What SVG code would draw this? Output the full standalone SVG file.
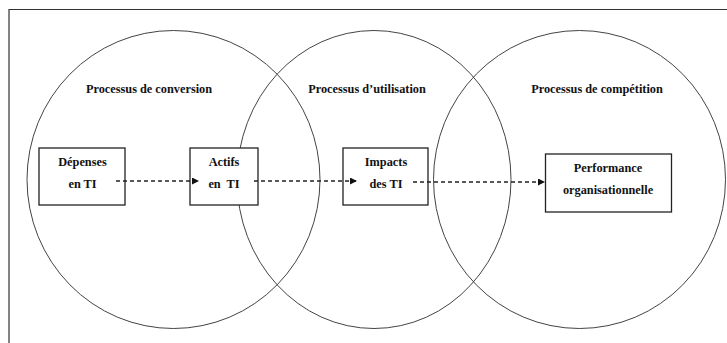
<svg xmlns="http://www.w3.org/2000/svg" width="727" height="343" viewBox="0 0 727 343">
<style>
.frame{fill:none;stroke:#333;stroke-width:1.2}
.ell{fill:none;stroke:#444;stroke-width:1}
.box{fill:#fff;stroke:#222;stroke-width:1.3}
.t{font-family:"Liberation Serif","Times New Roman",serif;font-weight:bold;font-size:12.3px;fill:#111;text-anchor:middle}
.edge{fill:none;stroke:#222;stroke-width:1.5;stroke-dasharray:4 3}
</style>
<defs>
<marker id="ah" viewBox="0 0 10 10" refX="10" refY="5" markerWidth="7" markerHeight="7" markerUnits="userSpaceOnUse" orient="auto">
<path d="M0,0 L10,5 L0,10 z" fill="#111"/>
</marker>
</defs>
<rect width="727" height="343" fill="#fff"/>
<path class="frame" d="M9,343 V9.5 H727"/>
<g id="processes">
<ellipse class="ell" cx="173.5" cy="179.5" rx="146.5" ry="149"/>
<ellipse class="ell" cx="374" cy="179.5" rx="137" ry="149"/>
<ellipse class="ell" cx="579.5" cy="179.5" rx="146" ry="149"/>
<text class="t" x="149" y="93">Processus de conversion</text>
<text class="t" x="367" y="93">Processus d’utilisation</text>
<text class="t" x="597" y="93">Processus de compétition</text>
</g>
<g id="depenses">
<rect class="box" x="39" y="148" width="86" height="57"/>
<text class="t" x="82.5" y="166">Dépenses</text>
<text class="t" x="82.5" y="188">en TI</text>
</g>
<g id="actifs">
<rect class="box" x="190" y="148" width="68" height="57"/>
<text class="t" x="224" y="166">Actifs</text>
<text class="t" x="224" y="188" xml:space="preserve">en  TI</text>
</g>
<g id="impacts">
<rect class="box" x="343" y="148" width="85" height="57"/>
<text class="t" x="386" y="166">Impacts</text>
<text class="t" x="386" y="188">des TI</text>
</g>
<g id="performance">
<rect class="box" x="545.5" y="154" width="126" height="58"/>
<text class="t" x="608" y="172">Performance</text>
<text class="t" x="608" y="194">organisationnelle</text>
</g>
<g id="connectors">
<line class="edge" x1="116" y1="181" x2="199" y2="181" marker-end="url(#ah)"/>
<line class="edge" x1="254" y1="181" x2="357" y2="181" marker-end="url(#ah)"/>
<line class="edge" x1="413" y1="182" x2="545" y2="182" marker-end="url(#ah)"/>
</g>
</svg>
